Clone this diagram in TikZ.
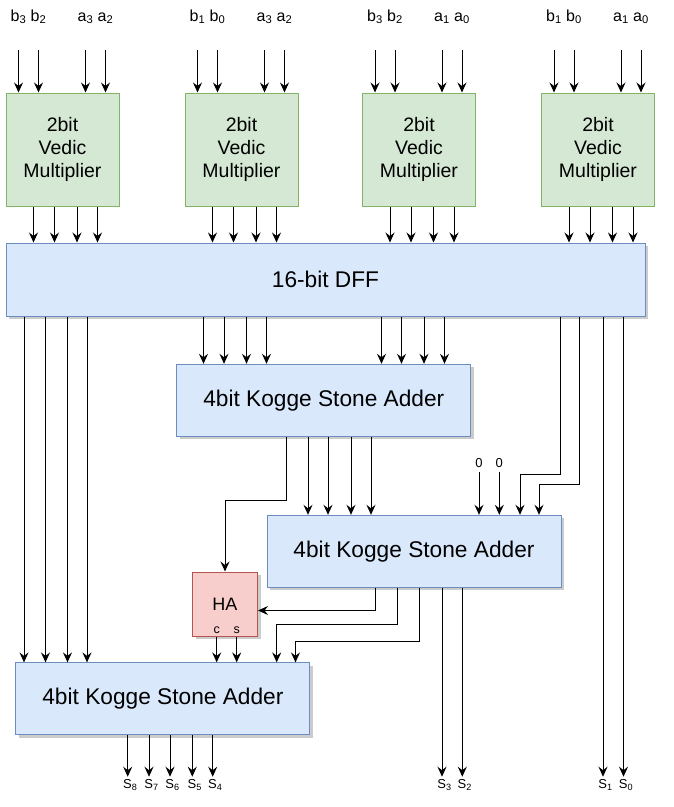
\documentclass[tikz,border=0pt]{standalone}
\usepackage{fontspec}
\setmainfont{Liberation Sans}
\usetikzlibrary{calc,arrows.meta,shadows}

\definecolor{vmfill}{HTML}{D5E8D4}
\definecolor{vmline}{HTML}{82B366}
\definecolor{blkfill}{HTML}{DAE8FC}
\definecolor{blkline}{HTML}{6C8EBF}
\definecolor{hafill}{HTML}{F8CECC}
\definecolor{haline}{HTML}{B85450}

\tikzset{
  arr/.style={line width=1pt,-{Stealth[length=10pt,width=9pt,inset=3.5pt]}},
  boxshadow/.style={drop shadow={shadow xshift=3pt,shadow yshift=-3pt,fill=black,opacity=0.2}},
  vedic/.style={draw=vmline,fill=vmfill,line width=1pt,minimum width=113pt,minimum height=113pt,
    inner sep=0pt,align=center,font=\fontsize{19.5}{23}\selectfont},
  blk/.style={draw=blkline,fill=blkfill,line width=1pt,boxshadow,minimum width=294pt,
    minimum height=72pt,inner sep=0pt,font=\fontsize{22.7}{26}\selectfont},
  habox/.style={draw=haline,fill=hafill,line width=1pt,boxshadow,minimum width=65pt,
    minimum height=64pt,inner sep=0pt,font=\fontsize{18}{22}\selectfont},
  toplbl/.style={anchor=base,inner sep=0pt,font=\fontsize{16}{19}\selectfont},
  sumlbl/.style={anchor=base,inner sep=2pt,font=\fontsize{13}{15}\selectfont},
  smalllbl/.style={anchor=base,inner sep=0pt,font=\fontsize{12.5}{14}\selectfont}
}

\begin{document}
\begin{tikzpicture}[x=1pt,y=-1pt]
  \useasboundingbox (0,0) rectangle (673,807);
  \node[blk,minimum width=639pt,minimum height=73pt] (dff) at (325.5,279.5) {16-bit DFF};
  \node[blk] (ksa1) at (323.8,400.3) {4bit Kogge Stone Adder};
  \node[blk] (ksa2) at (414,551.3) {4bit Kogge Stone Adder};
  \node[blk] (ksa3) at (162.9,698.9) {4bit Kogge Stone Adder};
  \node[habox] (ha) at (225,604) {HA};
  \node[smalllbl] (hac) at (216.7,633.5) {c};
  \node[smalllbl] (has) at (236.7,633.5) {s};

  \foreach \n/\cx/\p/\q/\u/\v in {1/62.5/3/2/3/2,2/241.5/1/0/3/2,3/419/3/2/1/0,4/598/1/0/1/0}{
    \node[vedic] (vm\n) at (\cx,149.5) {2bit\\Vedic\\Multiplier};
    \foreach \dx/\txt [count=\m] in {-44/b\textsubscript{\p},-24/b\textsubscript{\q},23/a\textsubscript{\u},43/a\textsubscript{\v}}{
      \node[toplbl] (in\n\m) at (\cx+\dx,21) {\txt};
      \draw[arr] ([yshift=-29pt]in\n\m.base) -- (in\n\m.base |- vm\n.north);
    }
    \foreach \dx in {-29,-8,14.5,35}
      \draw[arr] (\cx+\dx,0 |- vm\n.south) -- (\cx+\dx,0 |- dff.north);
  }

  \foreach \x in {24,45.5,67.5,87}
    \draw[arr] (\x,0 |- dff.south) -- (\x,0 |- ksa3.north);
  \foreach \x in {203.5,224,246.5,266.5,381.5,401.5,424,444.5}
    \draw[arr] (\x,0 |- dff.south) -- (\x,0 |- ksa1.north);
  \draw[arr] (560,0 |- dff.south) -- (560,474) -| (520,0 |- ksa2.north);
  \draw[arr] (579,0 |- dff.south) -- (579,484) -| (539,0 |- ksa2.north);

  \foreach \x [count=\m] in {479,499.3}{
    \node[smalllbl,font=\fontsize{13}{15}\selectfont] (zero\m) at (\x,467) {0};
    \draw[arr] ([yshift=-5pt]zero\m.base) -- (zero\m.base |- ksa2.north);
  }

  \draw[arr] (286,0 |- ksa1.south) -- (286,500.7) -| (ha.north);
  \foreach \x in {308,328,351,371}
    \draw[arr] (\x,0 |- ksa1.south) -- (\x,0 |- ksa2.north);

  \draw[arr] (375.3,0 |- ksa2.south) |- ($(ha.east)+(0,6.5)$);
  \draw[arr] (397.5,0 |- ksa2.south) -- (397.5,624.8) -| (276.7,0 |- ksa3.north);
  \draw[arr] (419.7,0 |- ksa2.south) -- (419.7,641.7) -| (295.5,0 |- ksa3.north);
  \foreach \lb in {hac,has}
    \draw[arr] (\lb.base |- ha.south) -- (\lb.base |- ksa3.north);

  \foreach \x/\sn/\src in {127.7/8/ksa3,149/7/ksa3,170/6/ksa3,192.3/5/ksa3,212.7/4/ksa3,
      442/3/ksa2,462.3/2/ksa2,603/1/dff,623.5/0/dff}{
    \node[sumlbl] (s\sn) at (\x+2.5,788) {S\textsubscript{\sn}};
    \draw[arr] (\x,0 |- \src.south) -- (\x,0 |- s\sn.north);
  }
\end{tikzpicture}
\end{document}
